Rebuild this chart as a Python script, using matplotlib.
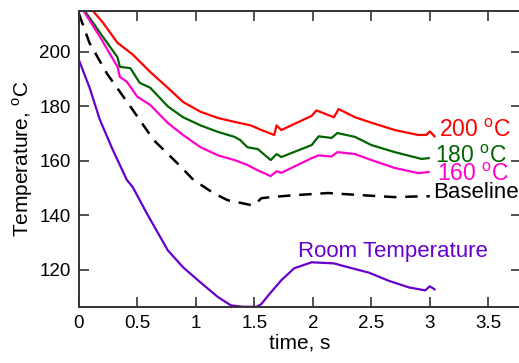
import matplotlib
matplotlib.use("Agg")
import matplotlib.pyplot as plt

plt.rcParams['font.family'] = ['Liberation Sans', 'DejaVu Sans']
plt.rcParams['mathtext.fontset'] = 'custom'
plt.rcParams['mathtext.rm'] = 'Liberation Sans'

# data
t200 = [0.0, 0.12, 0.2, 0.33, 0.46, 0.61, 0.76, 0.89, 1.04, 1.19, 1.33, 1.47, 1.56, 1.67, 1.69, 1.73, 1.99, 2.03, 2.18, 2.22, 2.36, 2.5, 2.7, 2.9, 2.97, 3.0, 3.04]
y200 = [215, 215, 211, 203.3, 199, 192.6, 186.8, 181.6, 178, 175.7, 174.3, 173, 171.3, 169.5, 173, 171.3, 176.5, 178.5, 176, 179, 176, 174, 171.3, 169.5, 169.5, 170.8, 169]

t180 = [0.0, 0.05, 0.18, 0.33, 0.35, 0.44, 0.52, 0.61, 0.76, 0.89, 1.04, 1.19, 1.33, 1.38, 1.44, 1.53, 1.64, 1.69, 1.73, 1.99, 2.05, 2.16, 2.21, 2.36, 2.5, 2.7, 2.93, 2.99]
y180 = [215, 215, 207, 198, 194.5, 194, 188.6, 186.8, 180, 176, 173, 170.6, 168.8, 167.6, 165, 164.3, 160.3, 162.5, 161.4, 165.8, 169, 168.4, 170.2, 168.8, 165.8, 163.2, 160.7, 161]

t160 = [0.0, 0.04, 0.18, 0.33, 0.35, 0.41, 0.5, 0.61, 0.76, 0.89, 1.04, 1.19, 1.33, 1.44, 1.53, 1.64, 1.69, 1.73, 1.99, 2.05, 2.16, 2.21, 2.36, 2.5, 2.7, 2.9, 2.99]
y160 = [215, 215, 205.5, 194.5, 190.8, 189, 183.5, 180.5, 173.9, 169.5, 165, 162, 160.3, 158.5, 156.5, 154.4, 156.2, 155.6, 161, 162, 161.6, 163.2, 162.5, 160.3, 157.4, 155.5, 155.9]

tbase = [0.0, 0.09, 0.24, 0.46, 0.64, 0.84, 0.98, 1.15, 1.27, 1.47, 1.5, 1.56, 1.64, 1.84, 2.13, 2.42, 2.7, 2.93, 3.0]
ybase = [214, 203.3, 192, 178.7, 167.6, 159.2, 153, 148.2, 145.6, 143.8, 143.8, 146.3, 146.7, 147.4, 148.2, 147.4, 146.7, 147, 147]

troom = [0.0, 0.09, 0.18, 0.29, 0.41, 0.46, 0.58, 0.76, 0.89, 1.04, 1.19, 1.3, 1.4, 1.47, 1.52, 1.56, 1.62, 1.73, 1.84, 1.99, 2.18, 2.3, 2.48, 2.65, 2.82, 2.96, 3.0, 3.04]
yroom = [197, 187, 175, 164, 153, 150.4, 140.8, 127.2, 121, 115.4, 110, 107, 106.5, 106.5, 106.5, 107.5, 110.7, 116.2, 120.6, 122.8, 122.4, 121, 119, 116, 113.6, 112.5, 114, 112.9]

xticks = [0, 0.5, 1, 1.5, 2, 2.5, 3, 3.5]
yticks = [120, 140, 160, 180, 200]

fig = plt.figure(figsize=(5.19, 3.63), dpi=100)
ax = fig.add_axes([0.152, 0.155, 0.852, 0.815])

ax.plot(t200, y200, color='#ff0000', lw=1.6)
ax.plot(t180, y180, color='#006400', lw=1.6)
ax.plot(t160, y160, color='#ff00cc', lw=1.6)
ax.plot(tbase, ybase, color='black', lw=1.8, dashes=(5, 3.5))
ax.plot(troom, yroom, color='#6600cc', lw=1.6)

fs_lab = 16.5
deg = '$^{\\mathregular{o}}$'
ax.text(3.08, 168.8, '200 ' + deg + 'C', color='#ff0000', fontsize=fs_lab, va='baseline')
ax.text(3.04, 159.3, '180 ' + deg + 'C', color='#006400', fontsize=fs_lab, va='baseline')
ax.text(3.06, 152.7, '160 ' + deg + 'C', color='#ff00cc', fontsize=fs_lab, va='baseline')
ax.text(3.03, 146.3, 'Baseline', color='black', fontsize=16, va='baseline')
ax.text(1.875, 124.6, 'Room Temperature', color='#6600cc', fontsize=16, va='baseline')

ax.set_xlim(0, 3.78)
ax.set_ylim(106.5, 215)
ax.set_xticks(xticks)
ax.set_xticklabels(['%g' % v for v in xticks])
ax.set_yticks(yticks)
ax.tick_params(direction='in', length=7, width=1.2, top=True, right=True, labelsize=13.5, color='#333333', pad=6)
for s in ax.spines.values():
    s.set_linewidth(1.4)
    s.set_color('#333333')

ax.set_xlabel('time, s', fontsize=15, labelpad=1)
ax.set_ylabel('Temperature, ' + deg + 'C', fontsize=15, labelpad=3)

fig.savefig('out.png', dpi=100)
